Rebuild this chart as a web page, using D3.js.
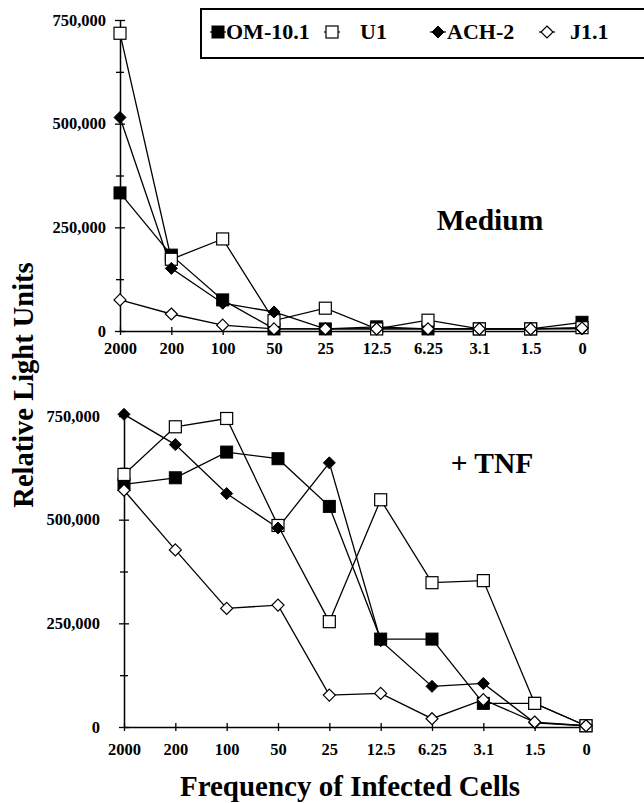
<!DOCTYPE html>
<html>
<head>
<meta charset="utf-8">
<script src="https://cdn.jsdelivr.net/npm/d3@7/dist/d3.min.js"></script>
<style>
  body { margin: 0; background: #fff; }
  svg { display: block; }
  svg text { font-family: "Liberation Serif", Tinos, "Times New Roman", Times, serif !important; font-weight: bold; fill: #000; }
</style>
</head>
<body>
<div id="chart"></div>
<script>
// categories (frequency of infected cells)
var freqs = ['2000', '200', '100', '50', '25', '12.5', '6.25', '3.1', '1.5', '0']
var seriesNames = ['OM-10.1', 'U1', 'ACH-2', 'J1.1']

// Medium panel
var mediumOM = [333000, 183000, 75000, 5000, 5000, 10000, 5000, 5000, 5000, 21000]
var mediumU1 = [718000, 173000, 222000, 25000, 55000, 5000, 26000, 5000, 5000, 8000]
var mediumACH = [515000, 151000, 67000, 46000, 5000, 5000, 5000, 5000, 5000, 5000]
var mediumJ11 = [75000, 41000, 14000, 5000, 5000, 5000, 5000, 5000, 5000, 7000]

// + TNF panel
var tnfOM = [585000, 601000, 663000, 647000, 532000, 212000, 212000, 57000, 57000, 3000]
var tnfU1 = [609000, 724000, 744000, 486000, 254000, 548000, 348000, 353000, 57000, 3000]
var tnfACH = [754000, 681000, 563000, 480000, 637000, 208000, 98000, 105000, 10000, 3000]
var tnfJ11 = [571000, 427000, 286000, 294000, 77000, 81000, 20000, 66000, 12000, 3000]

var majorTicks = [0, 250000, 500000, 750000]
var minorTicks = [125000, 375000, 625000]

var width = 644, height = 803

var svg = d3.select('#chart').append('svg')
    .attr('width', width)
    .attr('height', height)

// marker shapes per series
function drawMarker(g, name, x, y) {
    if (name === 'OM-10.1') {
        g.append('rect').attr('x', x - 6).attr('y', y - 6).attr('width', 12).attr('height', 12)
            .attr('fill', '#000').attr('stroke', '#000').attr('stroke-width', 1)
    } else if (name === 'U1') {
        g.append('rect').attr('x', x - 6).attr('y', y - 6).attr('width', 12).attr('height', 12)
            .attr('fill', '#fff').attr('stroke', '#000').attr('stroke-width', 1.2)
    } else if (name === 'ACH-2') {
        g.append('path').attr('d', 'M' + x + ',' + (y - 6) + 'L' + (x + 6) + ',' + y + 'L' + x + ',' + (y + 6) + 'L' + (x - 6) + ',' + y + 'Z')
            .attr('fill', '#000').attr('stroke', '#000').attr('stroke-width', 1)
    } else {
        g.append('path').attr('d', 'M' + x + ',' + (y - 6) + 'L' + (x + 6) + ',' + y + 'L' + x + ',' + (y + 6) + 'L' + (x - 6) + ',' + y + 'Z')
            .attr('fill', '#fff').attr('stroke', '#000').attr('stroke-width', 1.2)
    }
}

function panel(opts) {
    var xScale = d3.scalePoint().domain(freqs).range([opts.left, opts.right])
    var yScale = d3.scaleLinear().domain([0, 750000]).range([opts.bottom, opts.top])

    var g = svg.append('g')

    // y axis
    var yAxis = g.append('g')
        .attr('transform', 'translate(' + opts.left + ',0)')
        .call(d3.axisLeft(yScale).tickValues(majorTicks).tickFormat(d3.format(','))
            .tickSizeInner(5).tickSizeOuter(0).tickPadding(opts.yPad))
    yAxis.selectAll('.tick line').attr('x1', 5).attr('x2', -5)
    yAxis.selectAll('text').style('font-size', '16.5px')

    var yMinor = g.append('g')
        .attr('transform', 'translate(' + opts.left + ',0)')
        .call(d3.axisLeft(yScale).tickValues(minorTicks).tickFormat('').tickSizeOuter(0))
    yMinor.select('.domain').remove()
    yMinor.selectAll('.tick line').attr('x1', 4).attr('x2', -4)

    // x axis
    var xAxis = g.append('g')
        .attr('transform', 'translate(0,' + opts.bottom + ')')
        .call(d3.axisBottom(xScale).tickSizeInner(4).tickSizeOuter(0).tickPadding(opts.xPad))
    xAxis.selectAll('.tick line').attr('y1', -4).attr('y2', 4)
    xAxis.selectAll('text').style('font-size', '16.5px')

    g.selectAll('.domain').attr('stroke-width', 1.5)
    g.selectAll('.tick line').attr('stroke-width', 1.3)

    var line = d3.line()
        .x((d, i) => xScale(freqs[i]))
        .y(d => yScale(d))

    opts.series.forEach((vals, k) => {
        g.append('path')
            .datum(vals)
            .attr('d', line)
            .attr('fill', 'none')
            .attr('stroke', '#000')
            .attr('stroke-width', 1.3)
    })
    opts.series.forEach((vals, k) => {
        var mg = g.append('g')
        vals.forEach((v, i) => drawMarker(mg, seriesNames[k], xScale(freqs[i]), yScale(v)))
    })

    g.append('text')
        .attr('x', opts.labelX)
        .attr('y', opts.labelY)
        .attr('text-anchor', 'middle')
        .style('font-size', '29.5px')
        .text(opts.label)
}

panel({
    left: 120, right: 582, top: 20, bottom: 331, yPad: 9, xPad: 7,
    series: [mediumOM, mediumU1, mediumACH, mediumJ11],
    label: 'Medium', labelX: 490, labelY: 230
})

panel({
    left: 124, right: 586, top: 416, bottom: 727, yPad: 19, xPad: 12,
    series: [tnfOM, tnfU1, tnfACH, tnfJ11],
    label: '+ TNF', labelX: 492, labelY: 473
})

// Legend
var legendX = [218, 332, 438, 547]
var legendTextX = [226, 360, 447, 570]
var legend = svg.append('g')
legend.append('rect')
    .attr('x', 201).attr('y', 9)
    .attr('width', 470).attr('height', 49)
    .attr('fill', 'none').attr('stroke', '#000').attr('stroke-width', 2)

seriesNames.forEach((name, i) => {
    legend.append('line')
        .attr('x1', legendX[i] - 8).attr('x2', legendX[i] + 8)
        .attr('y1', 32).attr('y2', 32)
        .attr('stroke', '#000').attr('stroke-width', 1.2)
    drawMarker(legend, name, legendX[i], 32)
    legend.append('text')
        .attr('x', legendTextX[i]).attr('y', 39)
        .style('font-size', '22px')
        .text(name)
})

// Axis titles
svg.append('text')
    .attr('text-anchor', 'middle')
    .attr('x', 350)
    .attr('y', 796)
    .style('font-size', '29px')
    .text('Frequency of Infected Cells')

svg.append('text')
    .attr('text-anchor', 'middle')
    .attr('transform', 'translate(33,385) rotate(-90)')
    .style('font-size', '28.5px')
    .text('Relative Light Units')
</script>
</body>
</html>
